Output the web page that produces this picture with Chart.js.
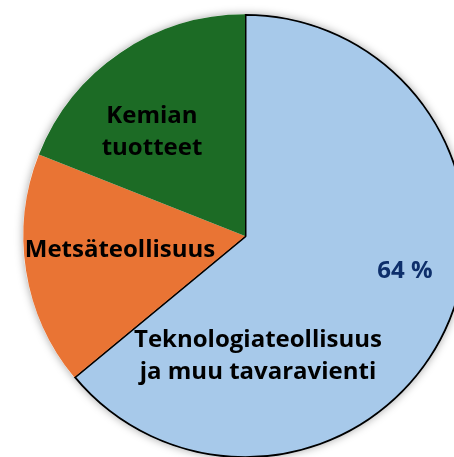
<!DOCTYPE html>
<html>
<head>
<meta charset="utf-8">
<script src="https://cdn.jsdelivr.net/npm/chart.js@4/dist/chart.umd.min.js"></script>
<style>
  html, body { margin: 0; padding: 0; background: #fff; overflow: hidden; width: 454px; height: 457px; }
  #chart { position: absolute; left: 0; top: 0; }
</style>
</head>
<body>
<canvas id="chart" width="490" height="472"></canvas>
<script>
// share of goods exports, %
const categories = ['Teknologiateollisuus ja muu tavaravienti', 'Metsäteollisuus', 'Kemian tuotteet'];
const shares = [64, 17, 19];
const colors = ['#a7c9ea', '#e97434', '#1c6b25'];
const labelLines = [['Teknologiateollisuus', 'ja muu tavaravienti'], ['Metsäteollisuus'], ['Kemian', 'tuotteet']];
const percentLabel = shares[0] + ' %';

// label placement (first baseline), relative to pie centre
const labelOffsets = [[13, 111], [-125, 21], [-93, -113]];
const percentOffset = [160, 42];

const pieShadow = {
    id: 'pieShadow',
    beforeDatasetsDraw(chart) {
        const arc = chart.getDatasetMeta(0).data[0];
        const ctx = chart.ctx;
        ctx.save();
        ctx.shadowColor = 'rgba(0,0,0,0.35)';
        ctx.shadowBlur = 9;
        ctx.fillStyle = '#fff';
        ctx.beginPath();
        ctx.arc(arc.x, arc.y, arc.outerRadius, 0, Math.PI * 2);
        ctx.fill();
        ctx.restore();
    }
};

const sliceLabels = {
    id: 'sliceLabels',
    afterDatasetsDraw(chart) {
        const arc = chart.getDatasetMeta(0).data[0];
        const ctx = chart.ctx;
        ctx.save();
        ctx.textAlign = 'center';
        ctx.textBaseline = 'alphabetic';
        ctx.font = 'bold 24px "Open Sans"';
        ctx.fillStyle = '#000';
        labelLines.forEach((lines, i) => {
            const cx = arc.x + labelOffsets[i][0];
            const cy = arc.y + labelOffsets[i][1];
            lines.forEach((t, j) => {
                ctx.fillText(t, cx, cy + j * 32);
            });
        });
        ctx.fillStyle = '#0e2f6b';
        ctx.fillText(percentLabel, arc.x + percentOffset[0], arc.y + percentOffset[1]);
        ctx.restore();
    }
};

new Chart(document.getElementById('chart'), {
    type: 'pie',
    data: {
        labels: categories,
        datasets: [{
            data: shares,
            backgroundColor: colors,
            borderColor: ['#000', 'rgba(0,0,0,0)', 'rgba(0,0,0,0)'],
            borderWidth: [1.5, 0, 0],
            borderAlign: 'inner',
            radius: 222
        }]
    },
    options: {
        responsive: false,
        animation: false,
        events: [],
        plugins: {
            legend: { display: false },
            tooltip: { enabled: false }
        }
    },
    plugins: [pieShadow, sliceLabels]
});
</script>
</body>
</html>
